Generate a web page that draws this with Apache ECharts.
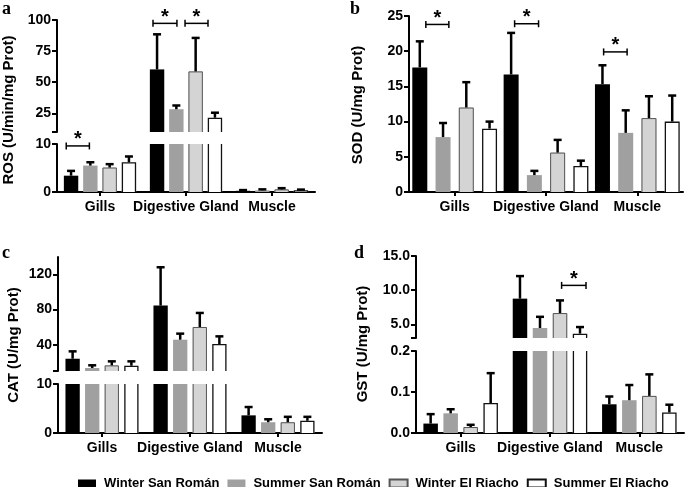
<!DOCTYPE html>
<html><head><meta charset="utf-8">
<script src="https://cdn.jsdelivr.net/npm/echarts@6/dist/echarts.min.js"></script>
<style>html,body{margin:0;padding:0;background:#fff}#c{width:685px;height:487px}</style>
</head><body><div id="c"></div>
<script>
// ---------- DATA ----------
const tissues = ['Gills', 'Digestive Gland', 'Muscle'];
const groups = ['Winter San Román', 'Summer San Román', 'Winter El Riacho', 'Summer El Riacho'];

// ROS (U/min/mg Prot): mean per group, per tissue
const rosMean = [[3.4, 60.3, 0.25], [5.5, 28.3, 0.35], [5.1, 58.7, 0.55], [6.2, 21.5, 0.35]];
const rosSd   = [[1.0, 28.2, 0.15], [0.7, 3.0, 0.2], [0.7, 26.9, 0.25], [1.2, 4.0, 0.15]];
const rosTicksLower = [0, 10];
const rosTicksUpper = [25, 50, 75, 100];
// significance: [tissue, fromBar, toBar, height]
const rosSig = [[0, -0.25, 0.95, 9.6], [1, -0.21, 1.03, 97.3], [1, 1.45, 2.64, 97.3]];

// SOD (U/mg Prot)
const sodMean = [[17.7, 16.7, 15.3], [7.8, 2.4, 8.4], [12.0, 5.6, 10.5], [9.0, 3.7, 10.0]];
const sodSd   = [[3.7, 5.9, 2.7], [2.0, 0.6, 3.2], [3.6, 1.8, 3.1], [1.0, 0.75, 3.7]];
const sodTicks = [0, 5, 10, 15, 20, 25];
const sodSig = [[0, 0.26, 1.25, 23.8], [1, 0.15, 1.18, 23.9], [2, 0.05, 1.06, 19.9]];

// CAT (U/mg Prot)
const catMean = [[24, 84.6, 3.6], [13.4, 45.7, 2.2], [16.4, 60.2, 2.2], [16, 40.8, 2.5]];
const catSd   = [[8.4, 43.7, 1.7], [3.1, 6.9, 0.6], [4.6, 16, 1.1], [5, 8.7, 0.8]];
const catTicksLower = [0, 10];
const catTicksUpper = [40, 80, 120];
const catSig = [];

// GST (U/mg Prot)
const gstMean = [[0.023, 8.76, 0.070], [0.048, 4.46, 0.080], [0.0146, 6.65, 0.0905], [0.073, 3.64, 0.050]];
const gstSd   = [[0.023, 3.3, 0.019], [0.010, 1.64, 0.037], [0.0054, 1.85, 0.0525], [0.073, 0.96, 0.019]];
const gstTicksLower = [0, 0.1, 0.2];
const gstTicksUpper = [5, 10, 15];
const gstSig = [[1, 2.08, 3.3, 10.7]];

// ---------- STYLE / LAYOUT ----------
const FONT = "'Liberation Sans', Arial, sans-serif";
const barStyles = [
  { color: '#000000', borderColor: null, borderWidth: 0 },
  { color: '#a0a0a0', borderColor: null, borderWidth: 0 },
  { color: '#d4d4d4', borderColor: '#555', borderWidth: 1 },
  { color: '#ffffff', borderColor: '#111', borderWidth: 1.3 }
];

const panels = [
  { letter: 'a', title: 'ROS (U/min/mg Prot)', mean: rosMean, sd: rosSd, sig: rosSig,
    left: 57, width: 258, barW: 14.4, gap: 34, dec: 0, titleX: 9, titleY: 110, letterX: 2, letterY: 0,
    lower: { top: 144, height: 48, min: 0, max: 10, ticks: rosTicksLower, labels: rosTicksLower },
    upper: { top: 20, height: 112, min: 10, max: 100, ticks: [10].concat(rosTicksUpper), labels: rosTicksUpper } },
  { letter: 'b', title: 'SOD (U/mg Prot)', mean: sodMean, sd: sodSd, sig: sodSig,
    left: 409, width: 274, barW: 15, gap: 55, dec: 0, titleX: 358, titleY: 105, letterX: 350, letterY: 0,
    lower: { top: 16, height: 176, min: 0, max: 25, ticks: sodTicks, labels: sodTicks } },
  { letter: 'c', title: 'CAT (U/mg Prot)', mean: catMean, sd: catSd, sig: catSig,
    left: 58, width: 264, barW: 14.3, gap: 37, dec: 0, titleX: 14, titleY: 345, letterX: 2, letterY: 244,
    lower: { top: 384, height: 49, min: 0, max: 10, ticks: catTicksLower, labels: catTicksLower },
    upper: { top: 257, height: 114, min: 10, max: 140, ticks: [10].concat(catTicksUpper), labels: catTicksUpper } },
  { letter: 'd', title: 'GST (U/mg Prot)', mean: gstMean, sd: gstSd, sig: gstSig,
    left: 416, width: 268, barW: 14.5, gap: 38, dec: 1, titleX: 363, titleY: 344, letterX: 354, letterY: 244,
    lower: { top: 351, height: 82, min: 0, max: 0.2, ticks: gstTicksLower, labels: gstTicksLower },
    upper: { top: 256, height: 82, min: 3, max: 15, ticks: [3].concat(gstTicksUpper), labels: gstTicksUpper } }
];

const grid = [], xAxis = [], yAxis = [], series = [], graphic = [];

function addAxes(p, part, showX) {
  const gi = grid.length;
  grid.push({ left: p.left, top: part.top, width: p.width, height: part.height, containLabel: false });
  xAxis.push({
    type: 'category', gridIndex: gi, data: tissues, show: showX,
    axisLine: { show: true, lineStyle: { color: '#000', width: 2 } },
    axisTick: { show: true, alignWithLabel: true, length: 4, lineStyle: { color: '#000', width: 2 } },
    axisLabel: { show: true, interval: 0, color: '#000', fontFamily: FONT, fontWeight: 'bold', fontSize: 14, margin: 8 },
    splitLine: { show: false }
  });
  yAxis.push({
    type: 'value', gridIndex: gi, min: part.min, max: part.max,
    splitLine: { show: false },
    axisLine: { show: true, lineStyle: { color: '#000', width: 2 } },
    axisTick: { show: true, length: 5, lineStyle: { color: '#000', width: 2 }, customValues: part.ticks },
    axisLabel: { color: '#000', fontFamily: FONT, fontWeight: 'bold', fontSize: 14, margin: 6,
      customValues: part.labels, formatter: v => Number(v).toFixed(p.dec) }
  });
  return gi;
}

panels.forEach(p => {
  const step = p.barW * (1 + p.gap / 100);
  const parts = [];
  const li = addAxes(p, p.lower, true);
  parts.push({ idx: li, part: p.lower, isUpper: false });
  if (p.upper) {
    const ui = addAxes(p, p.upper, false);
    parts.push({ idx: ui, part: p.upper, isUpper: true });
  }
  const splitVal = p.upper ? p.upper.min : Infinity;

  parts.forEach(({ idx, part, isUpper }) => {
    groups.forEach((g, gi) => {
      const off = (gi - 1.5) * step;
      const st = barStyles[gi];
      const barData = [];
      p.mean[gi].forEach((m, ti) => {
        if (!isUpper || m > splitVal) barData.push([ti, m]);
      });
      series.push({
        type: 'custom', name: g, xAxisIndex: idx, yAxisIndex: idx, silent: true, z: 2,
        encode: { x: 0, y: 1 }, data: barData,
        itemStyle: { color: st.color, borderColor: st.borderColor || st.color, borderWidth: st.borderWidth },
        renderItem: (params, api) => {
          const c = api.value(0), v = api.value(1);
          const topOpen = v > part.max;
          const vTop = Math.min(v, part.max);
          const vBot = Math.max(part.min, 0);
          const pt = api.coord([c, vTop]), pb = api.coord([c, vBot]);
          const x0 = pt[0] + off - p.barW / 2, x1 = x0 + p.barW;
          const children = [{ type: 'rect', shape: { x: x0, y: pt[1], width: p.barW, height: pb[1] - pt[1] }, style: { fill: st.color } }];
          if (st.borderWidth) {
            const h = st.borderWidth / 2;
            const pts = topOpen
              ? null
              : [[x0 + h, pb[1]], [x0 + h, pt[1] + h], [x1 - h, pt[1] + h], [x1 - h, pb[1]]];
            if (pts) {
              children.push({ type: 'polyline', shape: { points: pts }, style: { stroke: st.borderColor, lineWidth: st.borderWidth, fill: null } });
            } else {
              children.push({ type: 'line', shape: { x1: x0 + h, y1: pt[1], x2: x0 + h, y2: pb[1] }, style: { stroke: st.borderColor, lineWidth: st.borderWidth } });
              children.push({ type: 'line', shape: { x1: x1 - h, y1: pt[1], x2: x1 - h, y2: pb[1] }, style: { stroke: st.borderColor, lineWidth: st.borderWidth } });
            }
          }
          return { type: 'group', children };
        }
      });
      const ebData = [];
      p.mean[gi].forEach((m, ti) => {
        const inUpper = m > splitVal;
        if (inUpper === isUpper) ebData.push([ti, m, m + p.sd[gi][ti]]);
      });
      series.push({
        type: 'custom', xAxisIndex: idx, yAxisIndex: idx, silent: true, z: 3,
        encode: { x: 0, y: [1, 2] }, data: ebData,
        renderItem: (params, api) => {
          const c = api.value(0), m = api.value(1), t = api.value(2);
          const p0 = api.coord([c, m]), p1 = api.coord([c, t]);
          const x = p0[0] + off;
          return { type: 'group', children: [
            { type: 'line', shape: { x1: x, y1: p0[1], x2: x, y2: p1[1] }, style: { stroke: '#000', lineWidth: 2.5 } },
            { type: 'line', shape: { x1: x - 4, y1: p1[1], x2: x + 4, y2: p1[1] }, style: { stroke: '#000', lineWidth: 2.5 } }
          ] };
        }
      });
    });
    // significance brackets
    const sData = p.sig.filter(s => (s[3] > splitVal) === isUpper);
    if (sData.length) {
      series.push({
        type: 'custom', xAxisIndex: idx, yAxisIndex: idx, silent: true, z: 4,
        encode: { x: 0, y: 3 }, data: sData,
        renderItem: (params, api) => {
          const c = api.value(0), f = api.value(1), t = api.value(2), h = api.value(3);
          const pt = api.coord([c, h]);
          const x1 = pt[0] + (f - 1.5) * step, x2 = pt[0] + (t - 1.5) * step, y = pt[1];
          return { type: 'group', children: [
            { type: 'line', shape: { x1: x1, y1: y, x2: x2, y2: y }, style: { stroke: '#000', lineWidth: 1.5 } },
            { type: 'line', shape: { x1: x1, y1: y - 3.5, x2: x1, y2: y + 3.5 }, style: { stroke: '#000', lineWidth: 1.5 } },
            { type: 'line', shape: { x1: x2, y1: y - 3.5, x2: x2, y2: y + 3.5 }, style: { stroke: '#000', lineWidth: 1.5 } },
            { type: 'text', x: (x1 + x2) / 2, y: y - 6, style: { text: '*', fill: '#000', font: 'bold 20px ' + FONT, textAlign: 'center', textVerticalAlign: 'middle' } }
          ] };
        }
      });
    }
  });

  graphic.push({ type: 'text', left: p.letterX, top: p.letterY, style: { text: p.letter, fill: '#000', font: "bold 18px 'Liberation Serif', 'Times New Roman', serif" } });
  graphic.push({ type: 'text', x: p.titleX, y: p.titleY, rotation: Math.PI / 2,
    style: { text: p.title, fill: '#000', font: 'bold 15px ' + FONT, textAlign: 'center', textVerticalAlign: 'middle' } });
});

const chart = echarts.init(document.getElementById('c'), null, { renderer: 'canvas' });
chart.setOption({
  animation: false,
  backgroundColor: '#fff',
  grid, xAxis, yAxis, series, graphic,
  legend: {
    data: groups, left: 73, top: 472, icon: 'rect', itemWidth: 18, itemHeight: 8, itemGap: 8,
    selectedMode: false,
    textStyle: { fontFamily: FONT, fontWeight: 'bold', fontSize: 13, color: '#000', padding: [0, 0, 0, 3] }
  }
});
</script></body></html>
